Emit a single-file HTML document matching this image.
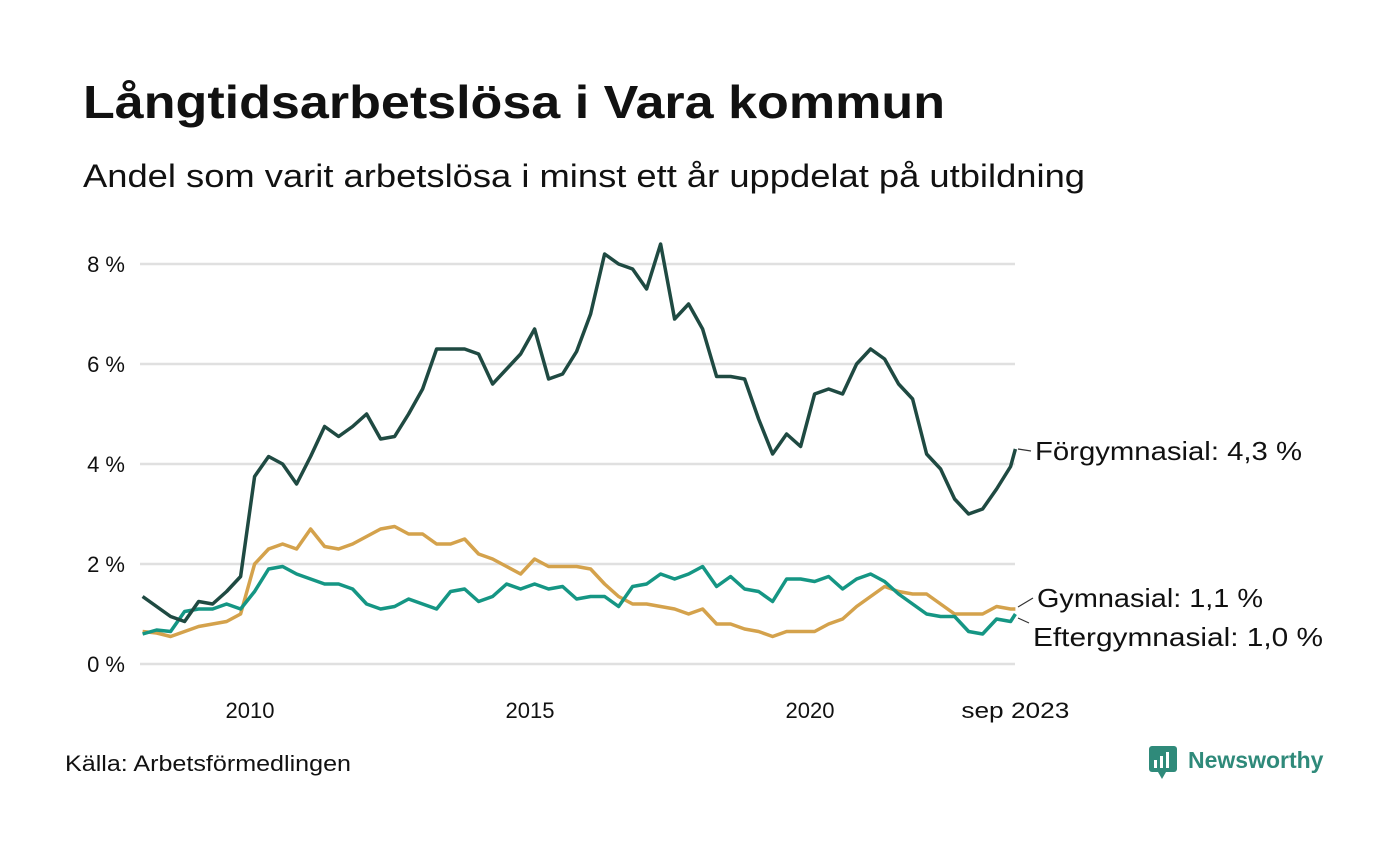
<!DOCTYPE html>
<html><head><meta charset="utf-8"><style>
body{margin:0;width:1400px;height:840px;background:#fff;overflow:hidden;font-family:"Liberation Sans","DejaVu Sans",sans-serif;}
</style></head><body>
<svg width="1400" height="840" xmlns="http://www.w3.org/2000/svg">
<text x="83" y="118" font-size="46" font-weight="bold" fill="#111" textLength="862" lengthAdjust="spacingAndGlyphs">Långtidsarbetslösa i Vara kommun</text>
<text x="83" y="187" font-size="32" fill="#111" textLength="1002" lengthAdjust="spacingAndGlyphs">Andel som varit arbetslösa i minst ett år uppdelat på utbildning</text>
<g id="grid"></g><g id="lines"></g><g id="labels"></g>
<text x="65" y="771" font-size="22" fill="#111" textLength="286" lengthAdjust="spacingAndGlyphs">Källa: Arbetsförmedlingen</text>
<g>
<rect x="1149" y="746" width="28" height="26" rx="3" fill="#2f8a7a"/>
<polygon points="1158,772 1166,772 1162,779" fill="#2f8a7a"/>
<rect x="1154" y="760" width="3" height="8" fill="#fff"/><rect x="1160" y="756" width="3" height="12" fill="#fff"/><rect x="1166" y="752" width="3" height="16" fill="#fff"/>
<text x="1188" y="768" font-size="23" font-weight="bold" fill="#2f8a7a">Newsworthy</text>
</g>
</svg>
<script>
const yTicks=[0,2,4,6,8];
const xTicks=[2010,2015,2020];
const startYear=2008.083;
const forg=[1.35,1.15,0.95,0.85,1.25,1.2,1.45,1.75,3.75,4.15,4.0,3.6,4.15,4.75,4.55,4.75,5.0,4.5,4.55,5.0,5.5,6.3,6.3,6.3,6.2,5.6,5.9,6.2,6.7,5.7,5.8,6.25,7.0,8.2,8.0,7.9,7.5,8.4,6.9,7.2,6.7,5.75,5.75,5.7,4.9,4.2,4.6,4.35,5.4,5.5,5.4,6.0,6.3,6.1,5.6,5.3,4.2,3.9,3.3,3.0,3.1,3.5,3.95,4.3];
const gymn=[0.65,0.62,0.55,0.65,0.75,0.8,0.85,1.0,2.0,2.3,2.4,2.3,2.7,2.35,2.3,2.4,2.55,2.7,2.75,2.6,2.6,2.4,2.4,2.5,2.2,2.1,1.95,1.8,2.1,1.95,1.95,1.95,1.9,1.6,1.35,1.2,1.2,1.15,1.1,1.0,1.1,0.8,0.8,0.7,0.65,0.55,0.65,0.65,0.65,0.8,0.9,1.15,1.35,1.55,1.45,1.4,1.4,1.2,1.0,1.0,1.0,1.15,1.1,1.1];
const efter=[0.6,0.68,0.65,1.05,1.1,1.1,1.2,1.1,1.45,1.9,1.95,1.8,1.7,1.6,1.6,1.5,1.2,1.1,1.15,1.3,1.2,1.1,1.45,1.5,1.25,1.35,1.6,1.5,1.6,1.5,1.55,1.3,1.35,1.35,1.15,1.55,1.6,1.8,1.7,1.8,1.95,1.55,1.75,1.5,1.45,1.25,1.7,1.7,1.65,1.75,1.5,1.7,1.8,1.65,1.4,1.2,1.0,0.95,0.95,0.65,0.6,0.9,0.85,1.0];
const seriesNames=["Förgymnasial","Gymnasial","Eftergymnasial"];
const ns="http://www.w3.org/2000/svg";
const X=t=>250+(t-2010)*56;
const Y=v=>664-v*50;
const tOf=i=>i<63?startYear+0.25*i:2023.667;
const grid=document.getElementById('grid');
function mk(tag,attrs,parent){const e=document.createElementNS(ns,tag);for(const k in attrs)e.setAttribute(k,attrs[k]);parent.appendChild(e);return e;}
yTicks.forEach(v=>{
 const l=mk('line',{x1:140,x2:1015,y1:Y(v),y2:Y(v),stroke:'#e0e0e0','stroke-width':2.5},grid);
 
 
 const t=mk('text',{x:125,y:Y(v)+8,'text-anchor':'end','font-size':22,fill:'#111'},grid);
 t.textContent=v+' %';
 
 
});
xTicks.forEach(y=>{
 const t=mk('text',{x:X(y),y:718,'text-anchor':'middle','font-size':22,fill:'#111'},grid);
 t.textContent=y;
 
 
});
const lt=mk('text',{x:X(2023.667),y:718,'text-anchor':'middle','font-size':22,fill:'#111',textLength:108,lengthAdjust:'spacingAndGlyphs'},grid);
lt.textContent='sep 2023';


const lines=document.getElementById('lines');
const cols=['#1f4a42','#d4a24c','#159684'];
[gymn,efter,forg].forEach((arr,j)=>{
 const idx=[1,2,0][j];
 const p=mk('polyline',{points:arr.map((v,i)=>X(tOf(i)).toFixed(1)+','+Y(v).toFixed(1)).join(' '),fill:'none',stroke:cols[idx],'stroke-width':3.5,'stroke-linejoin':'round'},lines);
 
 
});
const labs=document.getElementById('labels');
const last=[forg[forg.length-1],gymn[gymn.length-1],efter[efter.length-1]];
const ly=[Y(last[0])+2,Y(last[1])-11,Y(last[2])+23];
const lx=[1035,1037,1033];
const lw=[267,226,290];
last.forEach((v,i)=>{
 const ln=mk('line',{x1:1018,y1:i==0?Y(v):Y(v)+(i==1?-2:4),x2:lx[i]-4,y2:ly[i]-(i==0?0:(i==1?0:14)),stroke:'#333','stroke-width':1.2},labs);
 
 
 const t=mk('text',{x:lx[i],y:ly[i]+9,'font-size':26,fill:'#111',textLength:lw[i],lengthAdjust:'spacingAndGlyphs'},labs);
 t.textContent=seriesNames[i]+': '+v.toFixed(1).replace('.',',')+' %';
 
 
});
</script>
</body></html>
